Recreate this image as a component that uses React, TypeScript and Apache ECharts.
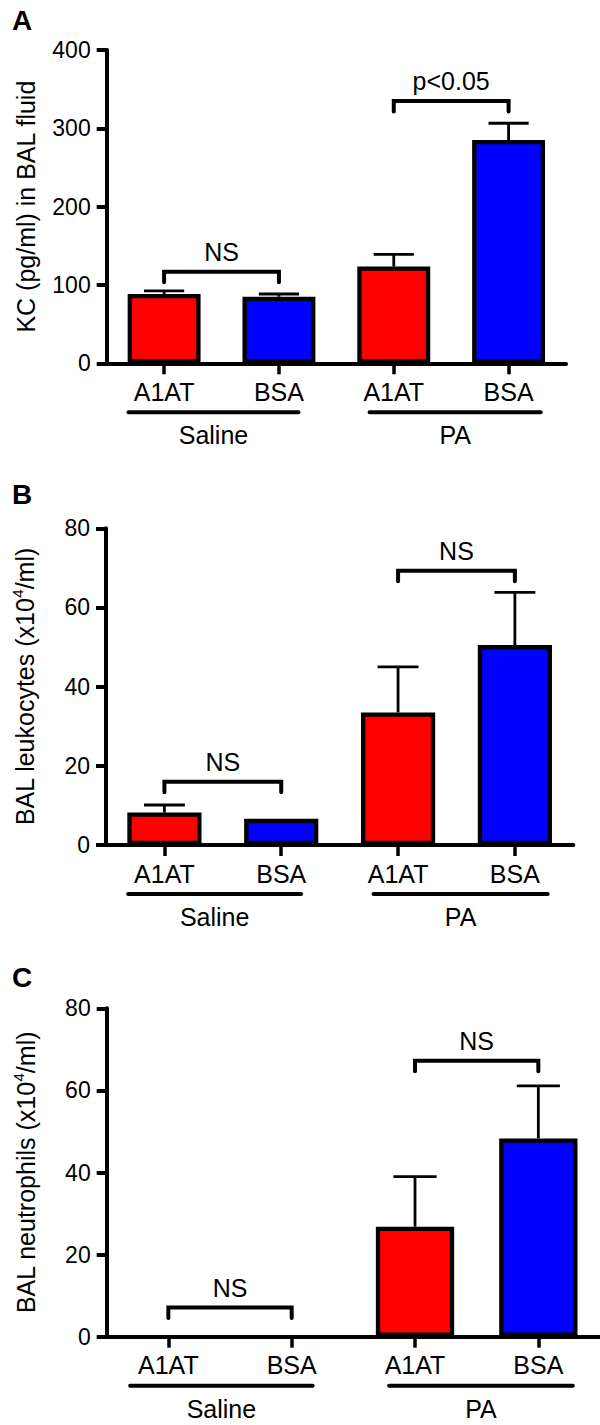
import React, { useEffect, useRef } from "react";
import * as echarts from "echarts";

// ---- data ----
const groups = ["Saline", "Saline", "PA", "PA"];
const treatments = ["A1AT", "BSA", "A1AT", "BSA"];
const categories = groups.map((g, i) => `${g} ${treatments[i]}`);

const kcMeans = [88.5, 85, 123.5, 285];
const kcUpper = [92.5, 88.5, 139, 306.5];
const leukMeans = [8.2, 6.6, 33.5, 50.5];
const leukUpper = [10.1, 6.6, 45, 63.8];
const neutMeans = [0, 0, 26.8, 48.3];
const neutUpper = [0, 0, 39, 61.1];

const kcBrackets = [
  { from: 0, to: 1, y: 117, label: "NS" },
  { from: 2, to: 3, y: 335, label: "p<0.05" },
];
const leukBrackets = [
  { from: 0, to: 1, y: 16, label: "NS" },
  { from: 2, to: 3, y: 69.3, label: "NS" },
];
const neutBrackets = [
  { from: 0, to: 1, y: 7.1, label: "NS" },
  { from: 2, to: 3, y: 67.2, label: "NS" },
];

// group underline spans, in category-index units
const groupSpans = [
  { label: "Saline", start: -0.31, end: 1.17 },
  { label: "PA", start: 1.79, end: 3.28 },
];

const yMax = [400, 80, 80];
const yInterval = [100, 20, 20];
const yTitles = [
  "KC (pg/ml) in BAL fluid",
  "BAL leukocytes (x10{sup|4}/ml)",
  "BAL neutrophils (x10{sup|4}/ml)",
];
const panelLetters = ["A", "B", "C"];

const treatmentColors: Record<string, string> = { A1AT: "#ff0000", BSA: "#0000ff" };

const FONT = '"Liberation Sans", Arial, Helvetica, sans-serif';

const grids = [
  { left: 106.7, top: 50, width: 459.3, height: 313.3 },
  { left: 106, top: 528.3, width: 467.3, height: 316.7 },
  { left: 106.7, top: 1008.3, width: 493.3, height: 328.4 },
];
const letterPos = [
  { x: 12, y: 20 },
  { x: 12, y: 494 },
  { x: 12, y: 977 },
];

const panels = [
  { means: kcMeans, upper: kcUpper, brackets: kcBrackets },
  { means: leukMeans, upper: leukUpper, brackets: leukBrackets },
  { means: neutMeans, upper: neutUpper, brackets: neutBrackets },
];

export default function App() {
  const ref = useRef<HTMLDivElement>(null);

  useEffect(() => {
    if (!ref.current) return;
    const chart = echarts.init(ref.current, null, { renderer: "svg" });

    const series: any[] = [];
    panels.forEach((p, pi) => {
      series.push({
        type: "bar",
        xAxisIndex: pi,
        yAxisIndex: pi,
        barWidth: "63.5%",
        silent: true,
        z: 2,
        itemStyle: { borderColor: "#000", borderWidth: 4.3 },
        data: p.means.map((v, i) => ({
          value: v,
          itemStyle: {
            color: treatmentColors[treatments[i]],
            borderColor: "#000",
            borderWidth: v > 0 ? 4.3 : 0,
          },
        })),
      });
      // error bars
      series.push({
        type: "custom",
        xAxisIndex: pi,
        yAxisIndex: pi,
        silent: true,
        z: 3,
        data: p.means.map((v, i) => [i, p.upper[i]]),
        renderItem: (params: any, api: any) => {
          const i = params.dataIndex;
          const m = p.means[i];
          const u = p.upper[i];
          if (!(u > m)) return null;
          const base = api.coord([i, m]);
          const top = api.coord([i, u]);
          const band = api.size([1, 0])[0];
          const hw = band * 0.175;
          const st = { stroke: "#000", lineWidth: 2.8 };
          return {
            type: "group",
            children: [
              { type: "line", shape: { x1: base[0], y1: base[1], x2: top[0], y2: top[1] }, style: st },
              { type: "line", shape: { x1: top[0] - hw, y1: top[1], x2: top[0] + hw, y2: top[1] }, style: st },
            ],
          };
        },
      });
      // significance brackets
      series.push({
        type: "custom",
        xAxisIndex: pi,
        yAxisIndex: pi,
        silent: true,
        z: 4,
        data: p.brackets.map((b) => [b.from, b.y]),
        renderItem: (params: any, api: any) => {
          const b = p.brackets[params.dataIndex];
          const a = api.coord([b.from, b.y]);
          const c = api.coord([b.to, b.y]);
          const leg = 10.5;
          return {
            type: "group",
            children: [
              {
                type: "polyline",
                shape: {
                  points: [
                    [a[0], a[1] + leg],
                    [a[0], a[1]],
                    [c[0], c[1]],
                    [c[0], c[1] + leg],
                  ],
                },
                style: { stroke: "#000", lineWidth: 4, fill: null, lineCap: "round", lineJoin: "miter" },
              },
              {
                type: "text",
                x: (a[0] + c[0]) / 2,
                y: a[1] - 20,
                style: {
                  text: b.label,
                  fill: "#000",
                  fontSize: 25,
                  fontFamily: FONT,
                  align: "center",
                  verticalAlign: "middle",
                },
              },
            ],
          };
        },
      });
      // group underlines and labels
      series.push({
        type: "custom",
        xAxisIndex: pi,
        yAxisIndex: pi,
        silent: true,
        clip: false,
        z: 4,
        data: groupSpans.map(() => [0, 0]),
        renderItem: (params: any, api: any) => {
          const g = groupSpans[params.dataIndex];
          const c0 = api.coord([0, 0]);
          const c1 = api.coord([1, 0]);
          const band = c1[0] - c0[0];
          const x1 = c0[0] + g.start * band;
          const x2 = c0[0] + g.end * band;
          const y = c0[1] + 49;
          return {
            type: "group",
            children: [
              {
                type: "line",
                shape: { x1, y1: y, x2, y2: y },
                style: { stroke: "#000", lineWidth: 4, lineCap: "round" },
              },
              {
                type: "text",
                x: (x1 + x2) / 2,
                y: c0[1] + 72,
                style: {
                  text: g.label,
                  fill: "#000",
                  fontSize: 25,
                  fontFamily: FONT,
                  align: "center",
                  verticalAlign: "middle",
                },
              },
            ],
          };
        },
      });
    });

    const option: any = {
      animation: false,
      backgroundColor: "#fff",
      textStyle: { fontFamily: FONT, color: "#000" },
      grid: grids.map((g) => ({ ...g, containLabel: false, outerBoundsMode: "none" })),
      xAxis: grids.map((_, pi) => ({
        type: "category",
        gridIndex: pi,
        data: categories,
        axisLine: { show: true, lineStyle: { color: "#000", width: 4 } },
        axisTick: { show: true, alignWithLabel: true, length: 11, lineStyle: { color: "#000", width: 3.5 } },
        axisLabel: {
          formatter: (_v: string, idx: number) => treatments[idx],
          color: "#000",
          fontSize: 25,
          fontFamily: FONT,
          margin: 16,
          interval: 0,
        },
        splitLine: { show: false },
      })),
      yAxis: grids.map((_, pi) => ({
        type: "value",
        gridIndex: pi,
        min: 0,
        max: yMax[pi],
        interval: yInterval[pi],
        axisLine: { show: true, lineStyle: { color: "#000", width: 4 } },
        axisTick: { show: true, length: 10, lineStyle: { color: "#000", width: 4 } },
        splitLine: { show: false },
        axisLabel: { color: "#000", fontSize: 23, fontFamily: FONT, margin: 16 },
        name: yTitles[pi],
        nameLocation: "middle",
        nameRotate: 90,
        nameGap: 66,
        nameTextStyle: {
          color: "#000",
          fontSize: 25,
          fontFamily: FONT,
          lineHeight: 30,
          rich: {
            sup: { fontSize: 15, fontFamily: FONT, color: "#000", verticalAlign: "top", lineHeight: 22 },
          },
        },
      })),
      graphic: panelLetters.map((l, i) => ({
        type: "text",
        x: letterPos[i].x,
        y: letterPos[i].y,
        style: {
          text: l,
          fill: "#000",
          fontSize: 28,
          fontWeight: "bold",
          fontFamily: FONT,
          align: "left",
          verticalAlign: "middle",
        },
      })),
      series,
    };

    chart.setOption(option);
    return () => chart.dispose();
  }, []);

  return (
    <div
      ref={ref}
      style={{ position: "absolute", left: 0, top: 0, width: 600, height: 1425, background: "#fff" }}
    />
  );
}
